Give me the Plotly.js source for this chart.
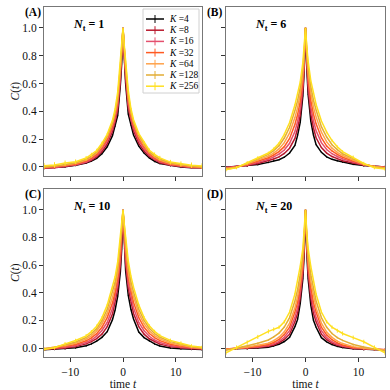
<!DOCTYPE html>
<html><head><meta charset="utf-8">
<script src="https://cdn.plot.ly/plotly-3.0.1.min.js"></script>
<style>html,body{margin:0;padding:0;background:#fff;}#chart{width:390px;height:390px;}</style>
</head><body><div id="chart"></div>
<script>
// time grid
const T = [-15,-13,-11,-9,-7,-6,-5,-4,-3,-2,-1.5,-1,-0.5,-0.25,0,0.25,0.5,1,1.5,2,3,4,5,6,7,9,11,13,15];
const K_LABELS = ['4','8','16','32','64','128','256'];
const PANEL_LABELS = ['(A)','(B)','(C)','(D)'];
const NT_LABELS = ['1','6','10','20'];

// Panel A: N_t = 1
const nt1_k4   = [-.008,-.004,.002,.012,.028,.042,.062,.095,.145,.225,.29,.37,.59,.74, 1, .75,.60,.38,.30,.23,.15,.10,.065,.04,.025,.010,.000,-.005,-.005];
const nt1_k8   = [-.01,-.006,.004,.014,.032,.048,.072,.11,.165,.255,.325,.41,.62,.77, 1, .78,.63,.42,.33,.26,.17,.115,.075,.05,.03,.012,.003,-.004,-.006];
const nt1_k16  = [-.006,-.004,.006,.016,.036,.055,.082,.125,.185,.275,.345,.44,.65,.79, 1, .80,.66,.45,.35,.28,.19,.13,.085,.057,.037,.015,.005,-.003,-.005];
const nt1_k32  = [-.005,.0,.01,.02,.044,.063,.092,.14,.20,.295,.365,.47,.68,.81, 1, .82,.69,.48,.37,.30,.205,.145,.095,.065,.045,.02,.008,0,-.004];
const nt1_k64  = [-.002,.004,.014,.026,.05,.072,.10,.15,.215,.31,.385,.49,.70,.83, 1, .84,.71,.50,.39,.315,.22,.155,.105,.075,.05,.025,.012,.003,-.002];
const nt1_k128 = [.0,.006,.018,.03,.056,.078,.108,.16,.225,.32,.395,.51,.72,.845, 1, .85,.73,.52,.40,.325,.23,.165,.11,.08,.057,.03,.016,.006,.001];
const nt1_k256 = [.008,.014,.028,.038,.064,.088,.118,.17,.235,.335,.415,.54,.75,.865, 1, .87,.76,.55,.42,.34,.24,.175,.12,.09,.065,.035,.022,.012,.006];

// Panel B: N_t = 6
const nt6_k4   = [-.002,.003,.008,.018,.033,.043,.052,.07,.10,.155,.225,.32,.51,.69, 1, .70,.52,.33,.23,.16,.105,.072,.055,.045,.035,.02,.01,.004,0];
const nt6_k8   = [-.004,.003,.011,.025,.043,.057,.072,.097,.135,.205,.275,.37,.55,.72, 1, .73,.56,.38,.28,.21,.14,.10,.075,.06,.045,.028,.013,.005,0];
const nt6_k16  = [-.006,.003,.014,.033,.055,.072,.092,.122,.17,.255,.325,.42,.59,.75, 1, .76,.60,.43,.33,.26,.175,.125,.095,.075,.058,.035,.016,.005,-.002];
const nt6_k32  = [-.009,.0,.018,.04,.066,.086,.11,.146,.205,.305,.375,.47,.63,.78, 1, .79,.64,.48,.38,.31,.21,.15,.115,.09,.07,.043,.018,.004,-.004];
const nt6_k64  = [-.012,-.002,.022,.048,.078,.10,.13,.175,.245,.355,.425,.52,.67,.80, 1, .81,.68,.53,.43,.36,.25,.18,.135,.105,.082,.05,.02,.003,-.006];
const nt6_k128 = [-.016,-.004,.026,.058,.09,.118,.152,.208,.285,.405,.475,.57,.71,.83, 1, .84,.72,.58,.48,.41,.29,.215,.16,.125,.095,.06,.022,0,-.01];
const nt6_k256 = [-.02,-.005,.03,.065,.10,.13,.17,.235,.32,.445,.525,.61,.75,.855, 1, .86,.76,.62,.53,.45,.33,.25,.19,.145,.11,.07,.025,-.005,-.015];

// Panel C: N_t = 10
const nt10_k4   = [-.012,-.008,-.004,.002,.016,.03,.05,.077,.118,.205,.275,.375,.55,.71, 1, .72,.56,.38,.28,.21,.115,.075,.05,.03,.015,0,-.005,-.008,-.01];
const nt10_k8   = [-.01,-.006,0,.01,.03,.046,.068,.10,.155,.245,.325,.425,.60,.75, 1, .76,.61,.43,.33,.25,.155,.10,.067,.045,.028,.01,0,-.005,-.008];
const nt10_k16  = [-.008,-.003,.006,.018,.04,.058,.086,.127,.185,.285,.365,.465,.64,.785, 1, .79,.65,.47,.37,.29,.185,.125,.085,.058,.04,.018,.006,-.002,-.006];
const nt10_k32  = [-.006,0,.012,.026,.052,.073,.104,.15,.22,.325,.405,.505,.68,.815, 1, .82,.69,.51,.41,.33,.22,.15,.105,.075,.053,.027,.012,.002,-.004];
const nt10_k64  = [-.005,.004,.018,.035,.064,.088,.123,.175,.25,.365,.44,.545,.72,.845, 1, .85,.73,.55,.44,.37,.25,.175,.125,.09,.066,.036,.019,.006,-.002];
const nt10_k128 = [-.006,.006,.024,.044,.076,.103,.14,.197,.28,.40,.475,.585,.765,.865, 1, .87,.77,.59,.48,.405,.28,.20,.143,.105,.078,.046,.027,.01,.002];
const nt10_k256 = [-.01,.002,.03,.054,.088,.118,.158,.218,.31,.435,.515,.625,.795,.885, 1, .89,.80,.63,.52,.44,.31,.22,.16,.12,.09,.055,.035,.015,.005];

// Panel D: N_t = 20
const nt20_k4   = [-.008,-.006,-.004,.0,.006,.014,.027,.047,.078,.155,.205,.32,.50,.68, 1, .68,.50,.31,.20,.15,.075,.045,.025,.012,.004,-.005,-.01,-.012,-.015];
const nt20_k8   = [-.008,-.005,-.002,.004,.012,.022,.038,.062,.10,.19,.25,.36,.54,.71, 1, .71,.54,.36,.25,.19,.10,.06,.035,.02,.01,-.003,-.008,-.01,-.012];
const nt20_k16  = [-.008,-.004,.001,.008,.018,.03,.048,.078,.125,.22,.29,.40,.57,.74, 1, .74,.57,.40,.29,.22,.125,.075,.045,.027,.015,0,-.006,-.009,-.012];
const nt20_k32  = [-.008,-.003,.004,.013,.025,.04,.062,.097,.15,.26,.33,.44,.60,.76, 1, .76,.60,.44,.33,.26,.15,.095,.06,.037,.022,.004,-.004,-.008,-.012];
const nt20_k64  = [-.01,-.002,.008,.02,.035,.053,.078,.117,.18,.29,.37,.48,.64,.78, 1, .78,.64,.48,.37,.29,.18,.115,.077,.05,.032,.01,-.002,-.008,-.014];
const nt20_k128 = [-.016,-.002,.016,.034,.058,.08,.108,.152,.22,.34,.42,.53,.68,.81, 1, .81,.68,.53,.42,.34,.22,.15,.105,.075,.055,.025,.008,-.008,-.022];
const nt20_k256 = [-.035,.005,.04,.08,.12,.135,.15,.19,.26,.39,.48,.59,.72,.83, 1, .83,.72,.59,.48,.39,.26,.19,.15,.125,.105,.075,.045,.005,-.035];

// error bars
const err_small = [.008,.008,.008,.007,.006,.006,.005,.005,.004,.003,.003,.002,.002,.001,0,.001,.002,.002,.003,.003,.004,.005,.005,.006,.006,.007,.008,.008,.008];
const errA_big = [.02,.02,.018,.016,.015,.014,.013,.012,.01,.008,.006,.005,.003,.002,0,.002,.003,.005,.006,.008,.01,.012,.013,.014,.015,.016,.018,.02,.02];
const errB_big = [.012,.012,.012,.012,.01,.01,.009,.008,.007,.006,.005,.004,.003,.002,0,.002,.003,.004,.005,.006,.007,.008,.009,.01,.01,.012,.012,.012,.012];
const errC_big = [.012,.012,.013,.013,.013,.012,.012,.011,.01,.008,.006,.005,.003,.002,0,.002,.003,.005,.006,.008,.01,.011,.012,.012,.013,.013,.013,.012,.012];
const errD_big = [.014,.014,.015,.015,.015,.014,.013,.012,.01,.008,.006,.005,.003,.002,0,.002,.003,.005,.006,.008,.01,.012,.013,.014,.015,.015,.015,.014,.014];

const COLORS = ['#000000','#b8182c','#e4506e','#ff5a22','#ffa24a','#e2ad35','#ffe020'];

const panels = [
  {series:[nt1_k4,nt1_k8,nt1_k16,nt1_k32,nt1_k64,nt1_k128,nt1_k256], big:errA_big},
  {series:[nt6_k4,nt6_k8,nt6_k16,nt6_k32,nt6_k64,nt6_k128,nt6_k256], big:errB_big},
  {series:[nt10_k4,nt10_k8,nt10_k16,nt10_k32,nt10_k64,nt10_k128,nt10_k256], big:errC_big},
  {series:[nt20_k4,nt20_k8,nt20_k16,nt20_k32,nt20_k64,nt20_k128,nt20_k256], big:errD_big}
];

const W = 390;
const px = v => v / W;
const py = v => 1 - v / W;
const SERIF = "'Liberation Serif', 'Times New Roman', serif";

const traces = [];
panels.forEach((p, i) => {
  const ax = i === 0 ? '' : String(i + 1);
  p.series.forEach((vals, k) => {
    traces.push({
      type: 'scatter', mode: 'lines', x: T, y: vals,
      xaxis: 'x' + ax, yaxis: 'y' + ax, showlegend: false,
      line: {color: COLORS[k], width: 1.5},
      error_y: {type: 'data', array: (k === 6 ? p.big : err_small), color: COLORS[k], thickness: 1, width: 0},
      hoverinfo: 'skip'
    });
  });
});

// panel pixel boxes [x0,x1,y0,y1]
const boxes = [[44,202,7,176],[226,385,7,176],[44,202,189,357],[226,385,189,357]];
const layout = {
  width: 390, height: 390, margin: {l:0, r:0, t:0, b:0},
  paper_bgcolor: '#fff', plot_bgcolor: '#fff',
  font: {family: SERIF, size: 11, color: '#111'},
  showlegend: false, annotations: [], shapes: []
};
boxes.forEach((b, i) => {
  const ax = i === 0 ? '' : String(i + 1);
  const bottomRow = i >= 2, leftCol = (i % 2 === 0);
  const xa = {
    domain: [px(b[0]), px(b[1])], anchor: 'y' + ax, range: [-15, 15],
    tickvals: [-10, 0, 10], ticks: 'outside', ticklen: 4, tickcolor: '#333',
    showline: true, mirror: true, linecolor: '#777', linewidth: 1,
    showgrid: false, zeroline: false, showticklabels: bottomRow,
    tickfont: {family: SERIF, size: 11.5}
  };
  if (bottomRow) xa.title = {text: 'time <i>t</i>', font: {family: SERIF, size: 11.5}, standoff: 2};
  layout['xaxis' + ax] = xa;
  layout['yaxis' + ax] = {
    domain: [py(b[3]), py(b[2])], anchor: 'x' + ax, range: [-0.065, 1.15],
    tickvals: [0, 0.2, 0.4, 0.6, 0.8, 1.0], tickformat: '.1f', ticks: 'outside', ticklen: 4, tickcolor: '#333',
    showline: true, mirror: true, linecolor: '#777', linewidth: 1,
    showgrid: false, zeroline: false, showticklabels: leftCol,
    tickfont: {family: SERIF, size: 11.5}
  };
  if (leftCol) {
    layout.annotations.push({
      xref: 'paper', yref: 'paper', x: px(15), y: py((b[2] + b[3]) / 2), xanchor: 'center', yanchor: 'middle',
      textangle: -90, text: '<i>C</i>(<i>t</i>)', showarrow: false, font: {family: SERIF, size: 11.5, color: '#111'}
    });
  }
  // panel label
  layout.annotations.push({
    xref: 'paper', yref: 'paper', x: px(b[0] - 11), y: py(b[2] + 5), xanchor: 'center', yanchor: 'middle',
    text: '<b>' + PANEL_LABELS[i] + '</b>', showarrow: false, font: {family: SERIF, size: 11.5, color: '#000'}
  });
  // N_t label
  layout.annotations.push({
    xref: 'paper', yref: 'paper', x: px(b[0] + 27), y: py(b[2] + 18), xanchor: 'left', yanchor: 'middle',
    text: '<b><i>N</i><sub>t</sub> = ' + NT_LABELS[i] + '</b>', showarrow: false, font: {family: SERIF, size: 12, color: '#000'}
  });
});

// hand-built legend (matplotlib style, line with vertical error tick)
layout.shapes.push({type:'rect', xref:'paper', yref:'paper', x0:px(143), x1:px(199), y0:py(93), y1:py(9),
  line:{color:'#d0d0d0', width:1}, fillcolor:'rgba(255,255,255,0.85)', layer:'above'});
K_LABELS.forEach((lab, k) => {
  const yy = 19 + k * 11.2;
  layout.shapes.push({type:'line', xref:'paper', yref:'paper', x0:px(146), x1:px(164), y0:py(yy), y1:py(yy),
    line:{color: COLORS[k], width: 1.5}, layer:'above'});
  layout.shapes.push({type:'line', xref:'paper', yref:'paper', x0:px(155), x1:px(155), y0:py(yy-4), y1:py(yy+4),
    line:{color: COLORS[k], width: 1}, layer:'above'});
  layout.annotations.push({xref:'paper', yref:'paper', x:px(167), y:py(yy), xanchor:'left', yanchor:'middle',
    text:'<i>K</i> =' + lab, showarrow:false, font:{family: SERIF, size: 9.5, color:'#000'}});
});

Plotly.newPlot('chart', traces, layout, {staticPlot: true, displayModeBar: false});
</script>
</body></html>
